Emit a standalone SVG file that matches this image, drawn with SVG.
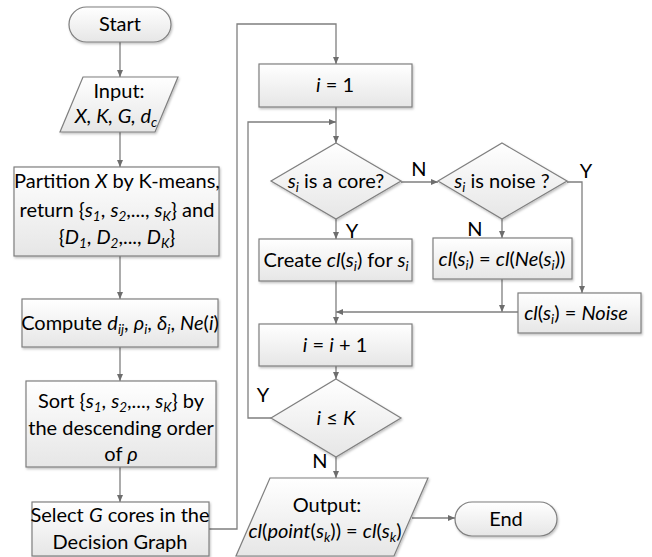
<svg xmlns="http://www.w3.org/2000/svg" width="652" height="557" viewBox="0 0 652 557">
<defs>
<linearGradient id="g" x1="0" y1="0" x2="0" y2="1">
<stop offset="0" stop-color="#ffffff"/>
<stop offset="1" stop-color="#e6e6e6"/>
</linearGradient>
<filter id="sh" x="-10%" y="-10%" width="120%" height="130%">
<feDropShadow dx="1" dy="1.5" stdDeviation="1" flood-color="#000" flood-opacity="0.25"/>
</filter>
<marker id="ah" markerWidth="7" markerHeight="6" refX="7" refY="3" orient="auto" markerUnits="userSpaceOnUse">
<path d="M0,0 L7,3 L0,6 Z" fill="#6d6d6d"/>
</marker>
<style>
.s{fill:url(#g);stroke:#7f7f7f;stroke-width:1.2;filter:url(#sh)}
.c{fill:none;stroke:#7f7f7f;stroke-width:1.3;marker-end:url(#ah)}
text{font-family:Lato,"Liberation Sans",sans-serif;font-size:20px;fill:#000;text-anchor:middle}
.i{font-style:italic}
.sb{font-size:13.5px;font-style:italic}
</style>
</defs>
<g id="connectors">
<path class="c" d="M120,42 V77"/>
<path class="c" d="M120,132 V167"/>
<path class="c" d="M120,256 V299"/>
<path class="c" d="M120,347 V381"/>
<path class="c" d="M120,467 V502"/>
<path class="c" d="M209,529 H237 V24 H336 V64"/>
<path class="c" d="M336,107 V143"/>
<path class="c" d="M401,182 H438"/>
<path class="c" d="M336,219 V239"/>
<path class="c" d="M502,219 V238"/>
<path class="c" d="M567,182 H582 V293"/>
<path class="c" d="M502,279 V312"/>
<path class="c" d="M518,312 H336"/>
<path class="c" d="M336,281 V324"/>
<path class="c" d="M336,366 V379"/>
<path class="c" d="M271,418 H248 V122 H336"/>
<path class="c" d="M336,457 V478"/>
<path class="c" d="M412,518 H455"/>
</g>
<g id="labels">
<text x="419" y="176">N</text>
<text x="586" y="178">Y</text>
<text x="475" y="236">N</text>
<text x="352" y="238">Y</text>
<text x="263" y="402">Y</text>
<text x="320" y="468">N</text>
</g>
<g id="start">
<rect class="s" x="69" y="7" width="102" height="35" rx="17.5"/>
<text x="120" y="31">Start</text>
</g>
<g id="input">
<polygon class="s" points="83,77 178,77 155,132 60,132"/>
<text x="119" y="98">Input:</text>
<text x="116" y="123" class="i">X, K, G, d<tspan class="sb" dy="4">c</tspan></text>
</g>
<g id="partition">
<rect class="s" x="14" y="167" width="205" height="89"/>
<text x="117" y="188">Partition <tspan class="i">X</tspan> by K-means,</text>
<text x="117" y="217">return {<tspan class="i">s</tspan><tspan class="sb" dy="4">1</tspan><tspan dy="-4">, </tspan><tspan class="i">s</tspan><tspan class="sb" dy="4">2</tspan><tspan dy="-4">,..., </tspan><tspan class="i">s</tspan><tspan class="sb" dy="4">K</tspan><tspan dy="-4">} and</tspan></text>
<text x="117" y="244">{<tspan class="i">D</tspan><tspan class="sb" dy="4">1</tspan><tspan dy="-4">, </tspan><tspan class="i">D</tspan><tspan class="sb" dy="4">2</tspan><tspan dy="-4">,..., </tspan><tspan class="i">D</tspan><tspan class="sb" dy="4">K</tspan><tspan dy="-4">}</tspan></text>
</g>
<g id="compute">
<rect class="s" x="22" y="299" width="196" height="48"/>
<text x="120" y="330">Compute <tspan class="i">d</tspan><tspan class="sb" dy="4">ij</tspan><tspan dy="-4">, </tspan><tspan class="i">ρ</tspan><tspan class="sb" dy="4">i</tspan><tspan dy="-4">, </tspan><tspan class="i">δ</tspan><tspan class="sb" dy="4">i</tspan><tspan dy="-4">, </tspan><tspan class="i">Ne</tspan>(<tspan class="i">i</tspan>)</text>
</g>
<g id="sort">
<rect class="s" x="26" y="381" width="190" height="86"/>
<text x="121" y="408">Sort {<tspan class="i">s</tspan><tspan class="sb" dy="4">1</tspan><tspan dy="-4">, </tspan><tspan class="i">s</tspan><tspan class="sb" dy="4">2</tspan><tspan dy="-4">,..., </tspan><tspan class="i">s</tspan><tspan class="sb" dy="4">K</tspan><tspan dy="-4">} by</tspan></text>
<text x="121" y="435">the descending order</text>
<text x="121" y="461">of <tspan class="i">ρ</tspan></text>
</g>
<g id="select">
<rect class="s" x="32" y="502" width="177" height="54"/>
<text x="120" y="522">Select <tspan class="i">G</tspan> cores in the</text>
<text x="120" y="549">Decision Graph</text>
</g>
<g id="init">
<rect class="s" x="259" y="64" width="153" height="43"/>
<text x="335" y="92"><tspan class="i">i</tspan> = 1</text>
</g>
<g id="iscore">
<polygon class="s" points="336,143 401,181 336,219 271,181"/>
<text x="336" y="188"><tspan class="i">s</tspan><tspan class="sb" dy="4">i</tspan><tspan dy="-4"> is a core?</tspan></text>
</g>
<g id="isnoise">
<polygon class="s" points="502,143 567,181 502,219 438,181"/>
<text x="502" y="188"><tspan class="i">s</tspan><tspan class="sb" dy="4">i</tspan><tspan dy="-4"> is noise ?</tspan></text>
</g>
<g id="create">
<rect class="s" x="259" y="239" width="153" height="42"/>
<text x="336" y="267">Create <tspan class="i">cl</tspan>(<tspan class="i">s</tspan><tspan class="sb" dy="4">i</tspan><tspan dy="-4">) for </tspan><tspan class="i">s</tspan><tspan class="sb" dy="4">i</tspan></text>
</g>
<g id="assign">
<rect class="s" x="433" y="238" width="139" height="41"/>
<text x="502" y="266"><tspan class="i">cl</tspan>(<tspan class="i">s</tspan><tspan class="sb" dy="4">i</tspan><tspan dy="-4">) = </tspan><tspan class="i">cl</tspan>(<tspan class="i">Ne</tspan>(<tspan class="i">s</tspan><tspan class="sb" dy="4">i</tspan><tspan dy="-4">))</tspan></text>
</g>
<g id="noise">
<rect class="s" x="518" y="293" width="123" height="40"/>
<text x="576" y="320"><tspan class="i">cl</tspan>(<tspan class="i">s</tspan><tspan class="sb" dy="4">i</tspan><tspan dy="-4">) = </tspan><tspan class="i">Noise</tspan></text>
</g>
<g id="incr">
<rect class="s" x="259" y="324" width="153" height="42"/>
<text x="335" y="352"><tspan class="i">i</tspan> = <tspan class="i">i</tspan> + 1</text>
</g>
<g id="loopcheck">
<polygon class="s" points="336,379 401,418 336,457 271,418"/>
<text x="336" y="425"><tspan class="i">i</tspan> ≤ <tspan class="i">K</tspan></text>
</g>
<g id="output">
<polygon class="s" points="270,478 428,478 394,556 236,556"/>
<text x="327" y="512">Output:</text>
<text x="325" y="538"><tspan class="i">cl</tspan>(<tspan class="i">point</tspan>(<tspan class="i">s</tspan><tspan class="sb" dy="4">k</tspan><tspan dy="-4">)) = </tspan><tspan class="i">cl</tspan>(<tspan class="i">s</tspan><tspan class="sb" dy="4">k</tspan><tspan dy="-4">)</tspan></text>
</g>
<g id="end">
<rect class="s" x="455" y="502" width="102" height="34" rx="17"/>
<text x="506" y="526">End</text>
</g>
</svg>
